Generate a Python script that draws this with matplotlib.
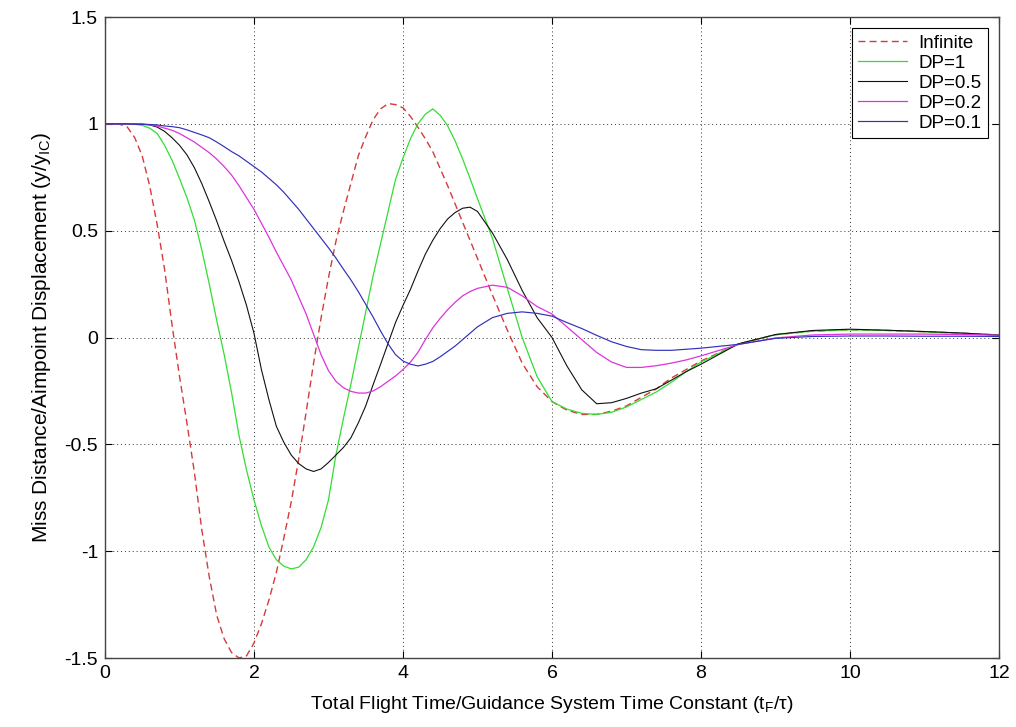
import matplotlib
matplotlib.use("Agg")
import matplotlib.pyplot as plt
import numpy as np

plt.rcParams["font.family"] = ["Liberation Sans", "DejaVu Sans"]
plt.rcParams["mathtext.fontset"] = "custom"
plt.rcParams["mathtext.rm"] = "Liberation Sans"
plt.rcParams["axes.unicode_minus"] = False

# x samples: tF/tau
x_vals = [0.0, 0.1, 0.2, 0.3, 0.4, 0.5, 0.6, 0.7, 0.8, 0.9, 1.0,
          1.1, 1.2, 1.3, 1.4, 1.5, 1.6, 1.7, 1.8, 1.9, 2.0,
          2.1, 2.2, 2.3, 2.4, 2.5, 2.6, 2.7, 2.8, 2.9, 3.0,
          3.1, 3.2, 3.3, 3.4, 3.5, 3.6, 3.7, 3.8, 3.9, 4.0,
          4.1, 4.2, 4.3, 4.4, 4.5, 4.6, 4.7, 4.8, 4.9, 5.0,
          5.2, 5.4, 5.6, 5.8, 6.0, 6.2, 6.4, 6.6, 6.8, 7.0, 7.2, 7.4, 7.6, 7.8, 8.0,
          8.5, 9.0, 9.5, 10.0, 10.5, 11.0, 11.5, 12.0]

infinite = [1.0, 1.0, 0.998, 0.985, 0.935, 0.85, 0.71, 0.53, 0.32, 0.06, -0.18,
            -0.40, -0.63, -0.90, -1.12, -1.30, -1.41, -1.475, -1.50, -1.49, -1.43,
            -1.34, -1.23, -1.10, -0.94, -0.77, -0.57, -0.35, -0.12, 0.09, 0.28,
            0.45, 0.59, 0.72, 0.85, 0.94, 1.02, 1.07, 1.095, 1.09, 1.075,
            1.035, 0.985, 0.93, 0.87, 0.79, 0.71, 0.625, 0.54, 0.455, 0.37,
            0.20, 0.035, -0.12, -0.23, -0.30, -0.34, -0.36, -0.36, -0.345, -0.32, -0.28, -0.24, -0.19, -0.15, -0.11,
            -0.03, 0.013, 0.03, 0.036, 0.033, 0.027, 0.02, 0.012]

dp_1 = [1.0, 1.0, 1.0, 1.0, 0.998, 0.993, 0.98, 0.955, 0.90, 0.83, 0.745,
        0.655, 0.55, 0.41, 0.25, 0.08, -0.08, -0.26, -0.46, -0.62, -0.76,
        -0.88, -0.98, -1.04, -1.07, -1.083, -1.075, -1.04, -0.98, -0.89, -0.76,
        -0.55, -0.38, -0.22, -0.05, 0.12, 0.29, 0.44, 0.59, 0.74, 0.84,
        0.93, 1.00, 1.045, 1.07, 1.04, 0.99, 0.92, 0.836, 0.745, 0.65,
        0.465, 0.23, 0.0, -0.183, -0.30, -0.335, -0.355, -0.36, -0.35, -0.325, -0.29, -0.255, -0.21, -0.16, -0.115,
        -0.03, 0.013, 0.03, 0.036, 0.033, 0.027, 0.02, 0.012]

dp_05 = [1.0, 1.0, 1.0, 1.0, 1.0, 0.998, 0.995, 0.985, 0.965, 0.935, 0.90,
         0.855, 0.795, 0.72, 0.635, 0.545, 0.45, 0.36, 0.26, 0.15, 0.02,
         -0.15, -0.29, -0.415, -0.49, -0.55, -0.59, -0.615, -0.627, -0.615, -0.585,
         -0.55, -0.515, -0.47, -0.40, -0.32, -0.22, -0.125, -0.027, 0.07, 0.15,
         0.225, 0.31, 0.39, 0.455, 0.51, 0.555, 0.585, 0.605, 0.61, 0.59,
         0.49, 0.365, 0.22, 0.093, 0.0, -0.133, -0.245, -0.31, -0.305, -0.285, -0.26, -0.24, -0.20, -0.16, -0.125,
         -0.03, 0.014, 0.033, 0.039, 0.034, 0.028, 0.021, 0.011]

dp_02 = [1.0, 1.0, 1.0, 1.0, 1.0, 1.0, 0.995, 0.99, 0.98, 0.97, 0.955,
         0.935, 0.915, 0.89, 0.865, 0.835, 0.80, 0.76, 0.71, 0.655, 0.60,
         0.535, 0.47, 0.40, 0.335, 0.27, 0.19, 0.11, 0.015, -0.08, -0.155,
         -0.205, -0.235, -0.252, -0.26, -0.26, -0.25, -0.23, -0.205, -0.18, -0.15,
         -0.115, -0.07, -0.01, 0.045, 0.09, 0.13, 0.165, 0.195, 0.215, 0.23,
         0.245, 0.235, 0.195, 0.145, 0.11, 0.05, -0.01, -0.07, -0.115, -0.14, -0.14, -0.132, -0.12, -0.105, -0.086,
         -0.033, -0.002, 0.012, 0.016, 0.016, 0.016, 0.014, 0.011]

dp_01 = [1.0, 1.0, 1.0, 1.0, 0.998, 0.998, 0.997, 0.995, 0.99, 0.987, 0.982,
         0.972, 0.96, 0.948, 0.935, 0.915, 0.893, 0.87, 0.85, 0.825, 0.80,
         0.775, 0.745, 0.715, 0.68, 0.64, 0.60, 0.555, 0.51, 0.465, 0.42,
         0.372, 0.32, 0.27, 0.215, 0.155, 0.095, 0.03, -0.03, -0.08, -0.11,
         -0.125, -0.133, -0.125, -0.112, -0.09, -0.065, -0.04, -0.01, 0.02, 0.05,
         0.093, 0.113, 0.12, 0.113, 0.10, 0.07, 0.042, 0.01, -0.02, -0.042, -0.057, -0.06, -0.06, -0.055, -0.05,
         -0.032, -0.004, 0.005, 0.007, 0.007, 0.006, 0.006, 0.005]

labels = ["Infinite", "DP=1", "DP=0.5", "DP=0.2", "DP=0.1"]

fig = plt.figure(figsize=(10.16, 7.27), dpi=100)
ax = fig.add_axes([0.1033, 0.0949, 0.88, 0.8817])

x = np.array(x_vals)
ax.plot(x, infinite, color="#d63a3a", linestyle=(0, (5, 3)), linewidth=1.0, label=labels[0])
ax.plot(x, dp_1, color="#33dd33", linewidth=0.9, label=labels[1])
ax.plot(x, dp_05, color="#111111", linewidth=0.8, label=labels[2])
ax.plot(x, dp_02, color="#dd33dd", linewidth=0.9, label=labels[3])
ax.plot(x, dp_01, color="#3030bb", linewidth=0.85, label=labels[4])

ax.set_xlim(0, 12)
ax.set_ylim(-1.5, 1.5)
ax.set_xticks([0, 2, 4, 6, 8, 10, 12])
ax.set_xticklabels(["0", "2", "4", "6", "8", "10", "12"])
ax.set_yticks([-1.5, -1, -0.5, 0, 0.5, 1, 1.5])
ax.set_yticklabels(["-1.5", "-1", "-0.5", "0", "0.5", "1", "1.5"])
ax.tick_params(direction="in", length=5, width=0.8, top=True, right=True, labelsize=14, pad=5)
ax.grid(True, color="#333333", linestyle=(0, (1, 3)), linewidth=0.7)
for s in ax.spines.values():
    s.set_color("#444444")
    s.set_linewidth(1.0)

ax.set_xlabel(r"Total Flight Time/Guidance System Time Constant (t$\mathregular{_F}$/τ)", fontsize=14, labelpad=9)
ax.set_ylabel(r"Miss Distance/Aimpoint Displacement (y/y$\mathregular{_{IC}}$)", fontsize=15, labelpad=8)

leg = ax.legend(loc="upper right", fontsize=13.5, fancybox=False, framealpha=1, edgecolor="black",
                handlelength=2.6, borderaxespad=0.6, labelspacing=0.15, borderpad=0.35,
                handletextpad=0.6)
leg.get_frame().set_linewidth(0.8)

fig.savefig("out.png", dpi=100)
